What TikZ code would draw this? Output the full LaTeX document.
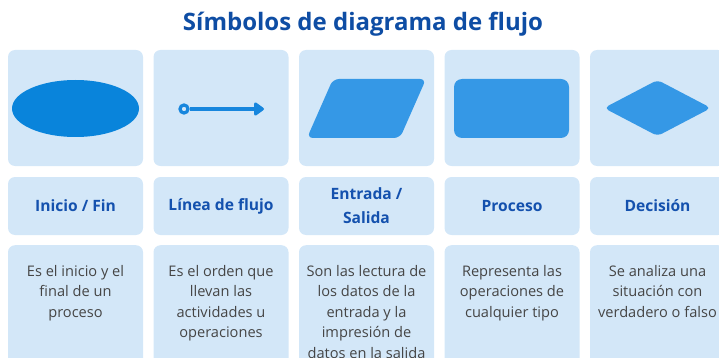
\documentclass[tikz,border=0pt]{standalone}
\usepackage{fontspec}
\setmainfont{Open Sans}
\usetikzlibrary{
    shapes.geometric,
    arrows.meta,
    positioning
}
\definecolor{cardblue}{HTML}{D3E7F8}
\definecolor{ovalblue}{HTML}{0984DB}
\definecolor{lineblue}{HTML}{1786DD}
\definecolor{shapeblue}{HTML}{3598E6}
\definecolor{titleblue}{HTML}{0E4DA4}
\definecolor{nameblue}{HTML}{1451AE}
\definecolor{infogray}{HTML}{454545}

\begin{document}
\begin{tikzpicture}[x=1pt, y=-1pt,
    card/.style={fill=cardblue, rounded corners=7pt, inner sep=0pt, minimum width=135pt},
    symbolcard/.style={card, minimum height=116pt},
    namecard/.style={card, minimum height=58pt, text=nameblue, align=center,
        font=\fontsize{15.6}{24}\selectfont\bfseries},
    infocard/.style={card, minimum height=140pt, anchor=north},
    infotext/.style={anchor=north, inner sep=0pt, text=infogray, align=center,
        font=\fontsize{14.6}{20.5}\selectfont},
    shapefill/.style={fill=shapeblue, rounded corners=6pt}
]
    \useasboundingbox (0,0) rectangle (719,358);
    \node[text=titleblue, font=\fontsize{24}{28}\selectfont\bfseries] (title) at (363,24) {Símbolos de diagrama de flujo};

    % cards with the symbols
    \node[symbolcard] (sym1) at (75.5,108) {};
    \node[symbolcard] (sym2) at (221,108) {};
    \node[symbolcard] (sym3) at (366.5,108) {};
    \node[symbolcard] (sym4) at (512,108) {};
    \node[symbolcard] (sym5) at (657.5,108) {};

    % cards with the names
    \node[namecard] (name1) at (75.5,206) {Inicio / Fin};
    \node[namecard] (name2) at (221,206) {Línea de flujo};
    \node[namecard] (name3) at (366.5,206) {Entrada /\\Salida};
    \node[namecard] (name4) at (512,206) {Proceso};
    \node[namecard] (name5) at (657.5,206) {Decisión};

    % cards with the descriptions
    \node[infocard] (info1) at (75.5,245) {};
    \node[infocard] (info2) at (221,245) {};
    \node[infocard] (info3) at (366.5,245) {};
    \node[infocard] (info4) at (512,245) {};
    \node[infocard] (info5) at (657.5,245) {};
    \node[infotext] (text1) at (75.5,265) {Es el inicio y el\\final de un\\proceso};
    \node[infotext] (text2) at (221,265) {Es el orden que\\llevan las\\actividades u\\operaciones};
    \node[infotext] (text3) at (366.5,265) {Son las lectura de\\los datos de la\\entrada y la\\impresión de\\datos en la salida};
    \node[infotext] (text4) at (512,265) {Representa las\\operaciones de\\cualquier tipo};
    \node[infotext] (text5) at (657.5,265) {Se analiza una\\situación con\\verdadero o falso};

    % symbols
    \node[ellipse, fill=ovalblue, inner sep=0pt, minimum width=127pt, minimum height=57pt] (oval) at (75.5,108.5) {};
    \node[circle, draw=lineblue, line width=3.2pt, fill=cardblue, inner sep=0pt, minimum size=8pt] (startdot) at (184,109) {};
    \coordinate (arrowtip) at (264,109);
    \draw[lineblue, line width=3.2pt, -{Triangle[length=11pt, width=15pt, round]}] (startdot) -- (arrowtip);
    \fill[shapefill] (307,138) -- (333,79) -- (426,79) -- (400,138) -- cycle;
    \node[rectangle, fill=shapeblue, rounded corners=8pt, inner sep=0pt, minimum width=115pt, minimum height=59pt] (box) at (511.5,108.5) {};
    \fill[shapefill, rounded corners=5pt] (604,108) -- (657.5,80) -- (711,108) -- (657.5,136) -- cycle;
\end{tikzpicture}
\end{document}
